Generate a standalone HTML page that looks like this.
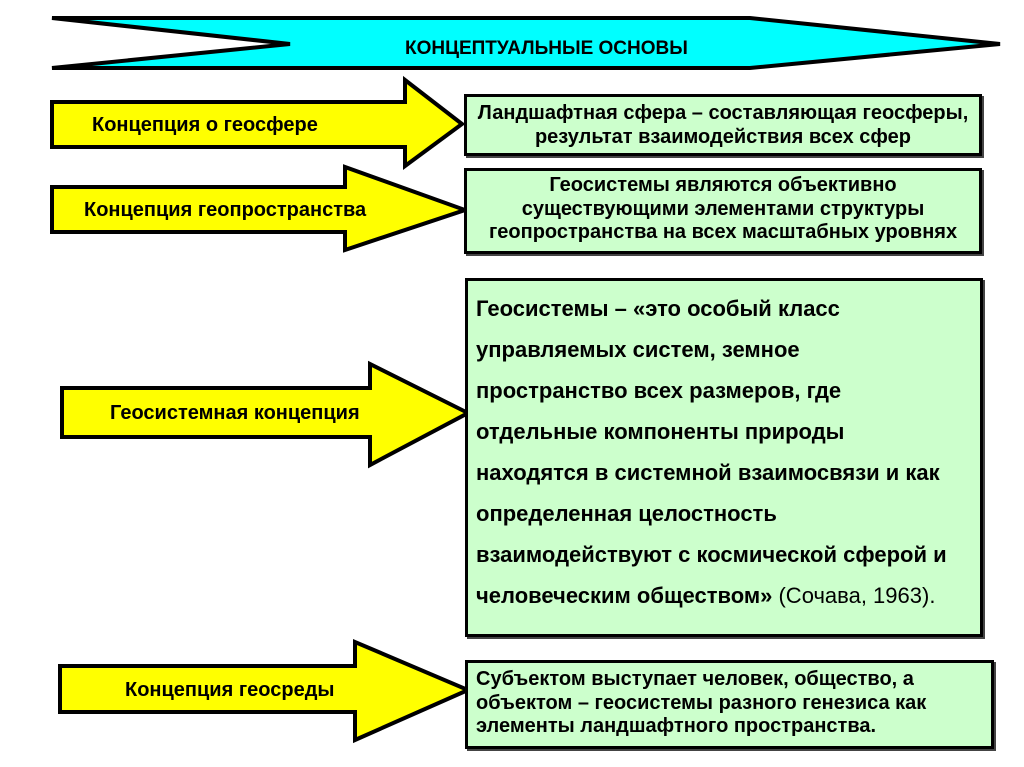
<!DOCTYPE html>
<html><head><meta charset="utf-8"><style>
body{margin:0;width:1024px;height:767px;background:#fff;position:relative;overflow:hidden;font-family:"Liberation Sans",sans-serif;font-weight:bold;color:#000}
svg{position:absolute;left:0;top:0}
.t{position:absolute;white-space:nowrap;line-height:23.5px}
.box{position:absolute;background:#ccffcc;border:3px solid #000;box-sizing:border-box;box-shadow:2px 2px 0 #444}
</style></head><body>
<svg width="1024" height="767">
<polygon points="52,18 750,18 1000,44 750,68 52,68 290,44" fill="#00ffff" stroke="#000" stroke-width="4" stroke-linejoin="miter"/>
<polygon points="52,102 405,102 405,80 462,124 405,166 405,147 52,147" fill="#ffff00" stroke="#000" stroke-width="4"/>
<polygon points="52,187 345,187 345,167 465,210 345,250 345,232 52,232" fill="#ffff00" stroke="#000" stroke-width="4"/>
<polygon points="62,388 370,388 370,364 468,413 370,465 370,437 62,437" fill="#ffff00" stroke="#000" stroke-width="4"/>
<polygon points="60,666 355,666 355,642 468,690 355,740 355,712 60,712" fill="#ffff00" stroke="#000" stroke-width="4"/>
</svg>
<div class="t" style="left:405px;top:37px;font-size:19px">КОНЦЕПТУАЛЬНЫЕ ОСНОВЫ</div>
<div class="t" style="left:92px;top:114px;font-size:20px">Концепция о геосфере</div>
<div class="t" style="left:84px;top:199px;font-size:20px">Концепция геопространства</div>
<div class="t" style="left:110px;top:402px;font-size:20px">Геосистемная концепция</div>
<div class="t" style="left:125px;top:679px;font-size:20px">Концепция геосреды</div>

<div class="box" style="left:464px;top:94px;width:518px;height:62px"></div>
<div class="t" style="left:464px;width:518px;top:102px;font-size:20px;text-align:center">Ландшафтная сфера – составляющая геосферы,<br>результат взаимодействия всех сфер</div>

<div class="box" style="left:464px;top:168px;width:518px;height:86px"></div>
<div class="t" style="left:464px;width:518px;top:174px;font-size:20px;text-align:center">Геосистемы являются объективно<br>существующими элементами структуры<br>геопространства на всех масштабных уровнях</div>

<div class="box" style="left:465px;top:278px;width:518px;height:359px"></div>
<div class="t" style="left:476px;top:288px;font-size:22px;line-height:41px">Геосистемы – «это особый класс<br>управляемых систем, земное<br>пространство всех размеров, где<br>отдельные компоненты природы<br>находятся в системной взаимосвязи и как<br>определенная целостность<br>взаимодействуют с космической сферой и<br>человеческим обществом» <span style="font-weight:normal">(Сочава, 1963).</span></div>

<div class="box" style="left:465px;top:660px;width:529px;height:89px"></div>
<div class="t" style="left:476px;top:668px;font-size:20px">Субъектом выступает человек, общество, а<br>объектом – геосистемы разного генезиса как<br>элементы ландшафтного пространства.</div>
</body></html>
